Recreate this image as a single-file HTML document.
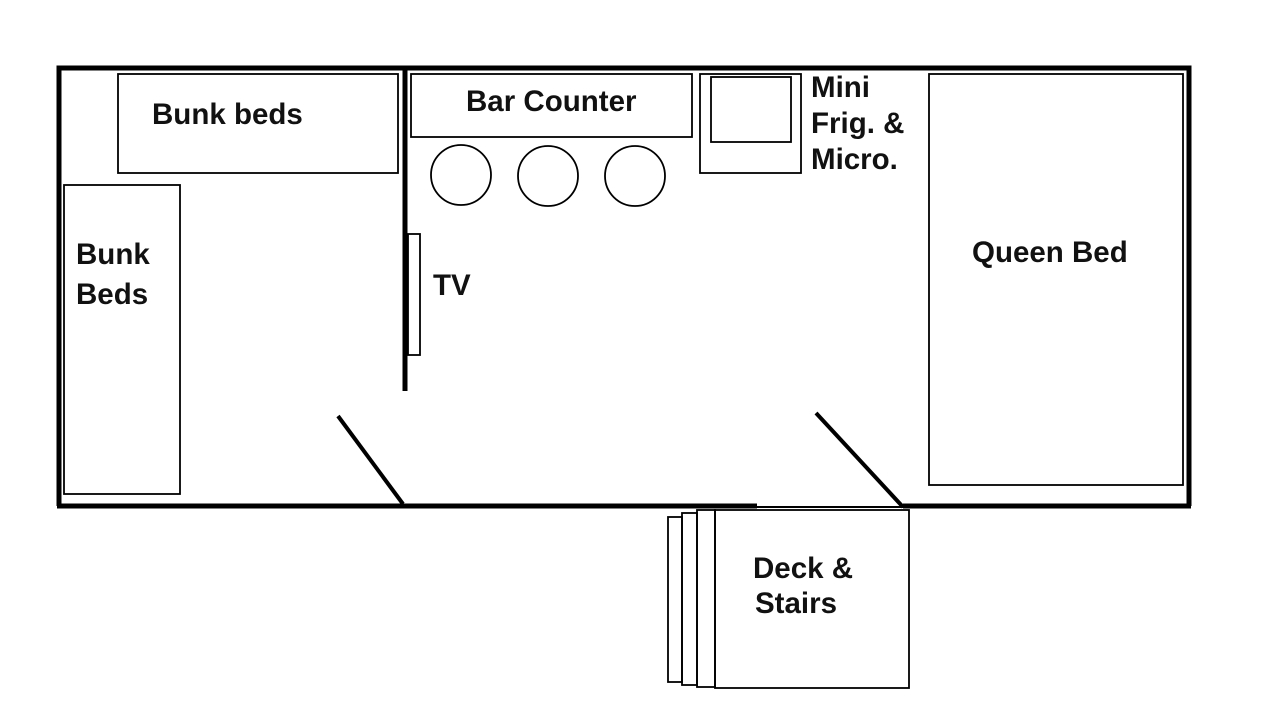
<!DOCTYPE html>
<html><head><style>
body{margin:0;background:#fff;width:1280px;height:720px;overflow:hidden}
svg text{font-family:"Liberation Sans",Arial,sans-serif;font-weight:bold;font-size:29.5px;fill:#111}
</style></head><body>
<svg width="1280" height="720" viewBox="0 0 1280 720">
<g fill="none" stroke="#000">
<path d="M59 506 V68 H1189 V506" stroke-width="5"/>
<path d="M57 506 H757" stroke-width="5"/>
<path d="M757 507 H905" stroke-width="2"/>
<path d="M903 506 H1191" stroke-width="5"/>
<path d="M405 68 V391" stroke-width="5"/>
<path d="M338 416 L403 504" stroke-width="4"/>
<path d="M816 413 L903 507" stroke-width="4"/>
<g stroke-width="1.8">
<rect x="118" y="74" width="280" height="99"/>
<rect x="64" y="185" width="116" height="309"/>
<rect x="411" y="74" width="281" height="63"/>
<circle cx="461" cy="175" r="30"/>
<circle cx="548" cy="176" r="30"/>
<circle cx="635" cy="176" r="30"/>
<rect x="700" y="74" width="101" height="99"/>
<rect x="711" y="77" width="80" height="65"/>
<rect x="408" y="234" width="12" height="121"/>
<rect x="929" y="74" width="254" height="411"/>
<rect x="668" y="517" width="14" height="165"/>
<rect x="682" y="513" width="15" height="172"/>
<rect x="697" y="510" width="18" height="177"/>
<rect x="715" y="510" width="194" height="178"/>
</g>
</g>
<text x="152" y="124">Bunk beds</text>
<text x="76" y="264">Bunk</text>
<text x="76" y="304">Beds</text>
<text x="466" y="111">Bar Counter</text>
<text x="811" y="97">Mini</text>
<text x="811" y="133">Frig. &amp;</text>
<text x="811" y="169">Micro.</text>
<text x="433" y="295">TV</text>
<text x="972" y="262">Queen Bed</text>
<text x="753" y="578">Deck &amp;</text>
<text x="755" y="613">Stairs</text>
</svg>
</body></html>
